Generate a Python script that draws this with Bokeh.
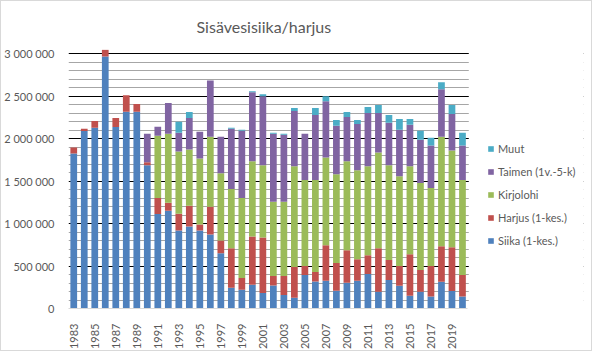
import math
from bokeh.plotting import figure
from bokeh.models import (FixedTicker, CustomJSTickFormatter, Legend, LegendItem,
                          ColumnDataSource, BoxAnnotation)
from bokeh.embed import file_html
from bokeh.resources import INLINE

years = list(range(1983, 2021))
siika = [1826, 2089, 2128, 2969, 2136, 2318, 2318, 1686, 1113, 1151, 919, 965, 919, 872, 651,
         244, 221, 279, 182, 271, 159, 128, 395, 318, 326, 209, 302, 326, 407, 198, 337, 267,
         151, 198, 140, 314, 205, 140]
harjus = [70, 27, 81, 78, 108, 194, 89, 35, 189, 93, 197, 244, 69, 326, 151,
          465, 139, 570, 655, 113, 225, 360, 105, 112, 418, 326, 384, 255, 221, 511, 233, 233,
          489, 255, 360, 419, 516, 255]
kirjolohi = [0, 0, 0, 0, 0, 0, 0, 0, 733, 814, 733, 663, 779, 825, 791,
             698, 942, 884, 849, 872, 872, 1186, 1012, 1082, 1035, 1046, 1047, 1047, 1046, 1128,
             1116, 1058, 1034, 1024, 919, 1290, 1139, 1117]
taimen = [0, 0, 0, 0, 0, 0, 0, 337, 105, 361, 221, 372, 314, 663, 430,
          709, 791, 814, 814, 802, 791, 652, 546, 767, 663, 570, 523, 546, 628, 465, 500, 547,
          489, 511, 500, 558, 431, 407]
muut = [0, 0, 0, 0, 0, 0, 0, 0, 0, 0, 128, 70, 0, 0, 0,
        12, 12, 12, 23, 12, 11, 35, 0, 81, 58, 70, 58, 47, 70, 93, 93, 128,
        70, 105, 93, 82, 104, 151]

series_names = ["Siika (1-kes.)", "Harjus (1-kes.)", "Kirjolohi", "Taimen (1v.-5-k)", "Muut"]
colors = ["#4F81BD", "#C0504D", "#9BBB59", "#8064A2", "#4BACC6"]
y_ticks = [0, 500000, 1000000, 1500000, 2000000, 2500000, 3000000]
x_ticks = list(range(1983, 2020, 2))

keys = ["siika", "harjus", "kirjolohi", "taimen", "muut"]
data = {"year": years}
for k, arr in zip(keys, [siika, harjus, kirjolohi, taimen, muut]):
    data[k] = [v * 1000 for v in arr]
src = ColumnDataSource(data)

W, H = 592, 351
BL, BR = 66, 10
plot_px = 400.0  # width of the bar area in pixels
x0 = years[0] - 0.5
x1 = years[-1] + 0.5
frame_w = W - BL - BR
x_end = x0 + (x1 - x0) * frame_w / plot_px

p = figure(width=W, height=H, x_range=(x0, x_end), y_range=(0, 3050000),
           min_border_left=BL, min_border_right=BR, min_border_top=48, min_border_bottom=41,
           toolbar_location=None, output_backend="svg", title="Sisävesisiika/harjus")
p.styles = {"border": "1px solid #D9D9D9"}
p.outline_line_color = None

p.title.align = "left"
p.title.text_font = "Lato"
p.title.text_font_size = "16px"
p.title.text_font_style = "normal"
p.title.text_color = "#595959"
p.title.offset = 128
p.title.standoff = 27

minor = [v for v in range(0, 3000001, 100000) if v % 500000 != 0]
p.yaxis.ticker = FixedTicker(ticks=y_ticks, minor_ticks=minor)
p.yaxis.formatter = CustomJSTickFormatter(code="return tick.toString().replace(/\\B(?=(\\d{3})+(?!\\d))/g, ' ');")
p.yaxis.axis_line_color = None
p.yaxis.major_tick_line_color = None
p.yaxis.minor_tick_line_color = None
p.yaxis.major_label_text_font = "Lato"
p.yaxis.major_label_text_font_size = "11px"
p.yaxis.major_label_text_color = "#595959"
p.yaxis.major_label_standoff = 8

p.xaxis.ticker = FixedTicker(ticks=x_ticks)
p.xaxis.bounds = (x0, x1)
p.xaxis.major_label_orientation = math.pi / 2
p.xaxis.axis_line_color = "#D9D9D9"
p.xaxis.major_tick_line_color = None
p.xaxis.minor_tick_line_color = None
p.xaxis.major_label_text_font = "Lato"
p.xaxis.major_label_text_font_size = "11px"
p.xaxis.major_label_text_color = "#595959"
p.xaxis.major_label_standoff = 9

p.xgrid.grid_line_color = None
p.ygrid.grid_line_color = "#000000"
p.ygrid.grid_line_width = 1.2
p.ygrid.minor_grid_line_color = "#A6A6A6"
p.ygrid.minor_grid_line_width = 1.2

# mask grid lines to the right of the bar area (legend area)
mask = BoxAnnotation(left=x1 + 0.1, fill_color="white", fill_alpha=1.0,
                     line_color=None, level="underlay")
p.add_layout(mask)

rs = p.vbar_stack(keys, x="year", width=0.64, color=colors, source=src, line_color=None)

items = [LegendItem(label=n, renderers=[r]) for n, r in zip(series_names, rs)][::-1]
legend = Legend(items=items, location=(419, 58), padding=0, margin=0,
                border_line_color=None, background_fill_alpha=0,
                glyph_width=7, glyph_height=7, label_height=20, spacing=3,
                label_text_font="Lato", label_text_font_size="11px",
                label_text_color="#595959", label_standoff=4)
p.add_layout(legend, "center")

open("out.html", "w").write(file_html(p, INLINE))
